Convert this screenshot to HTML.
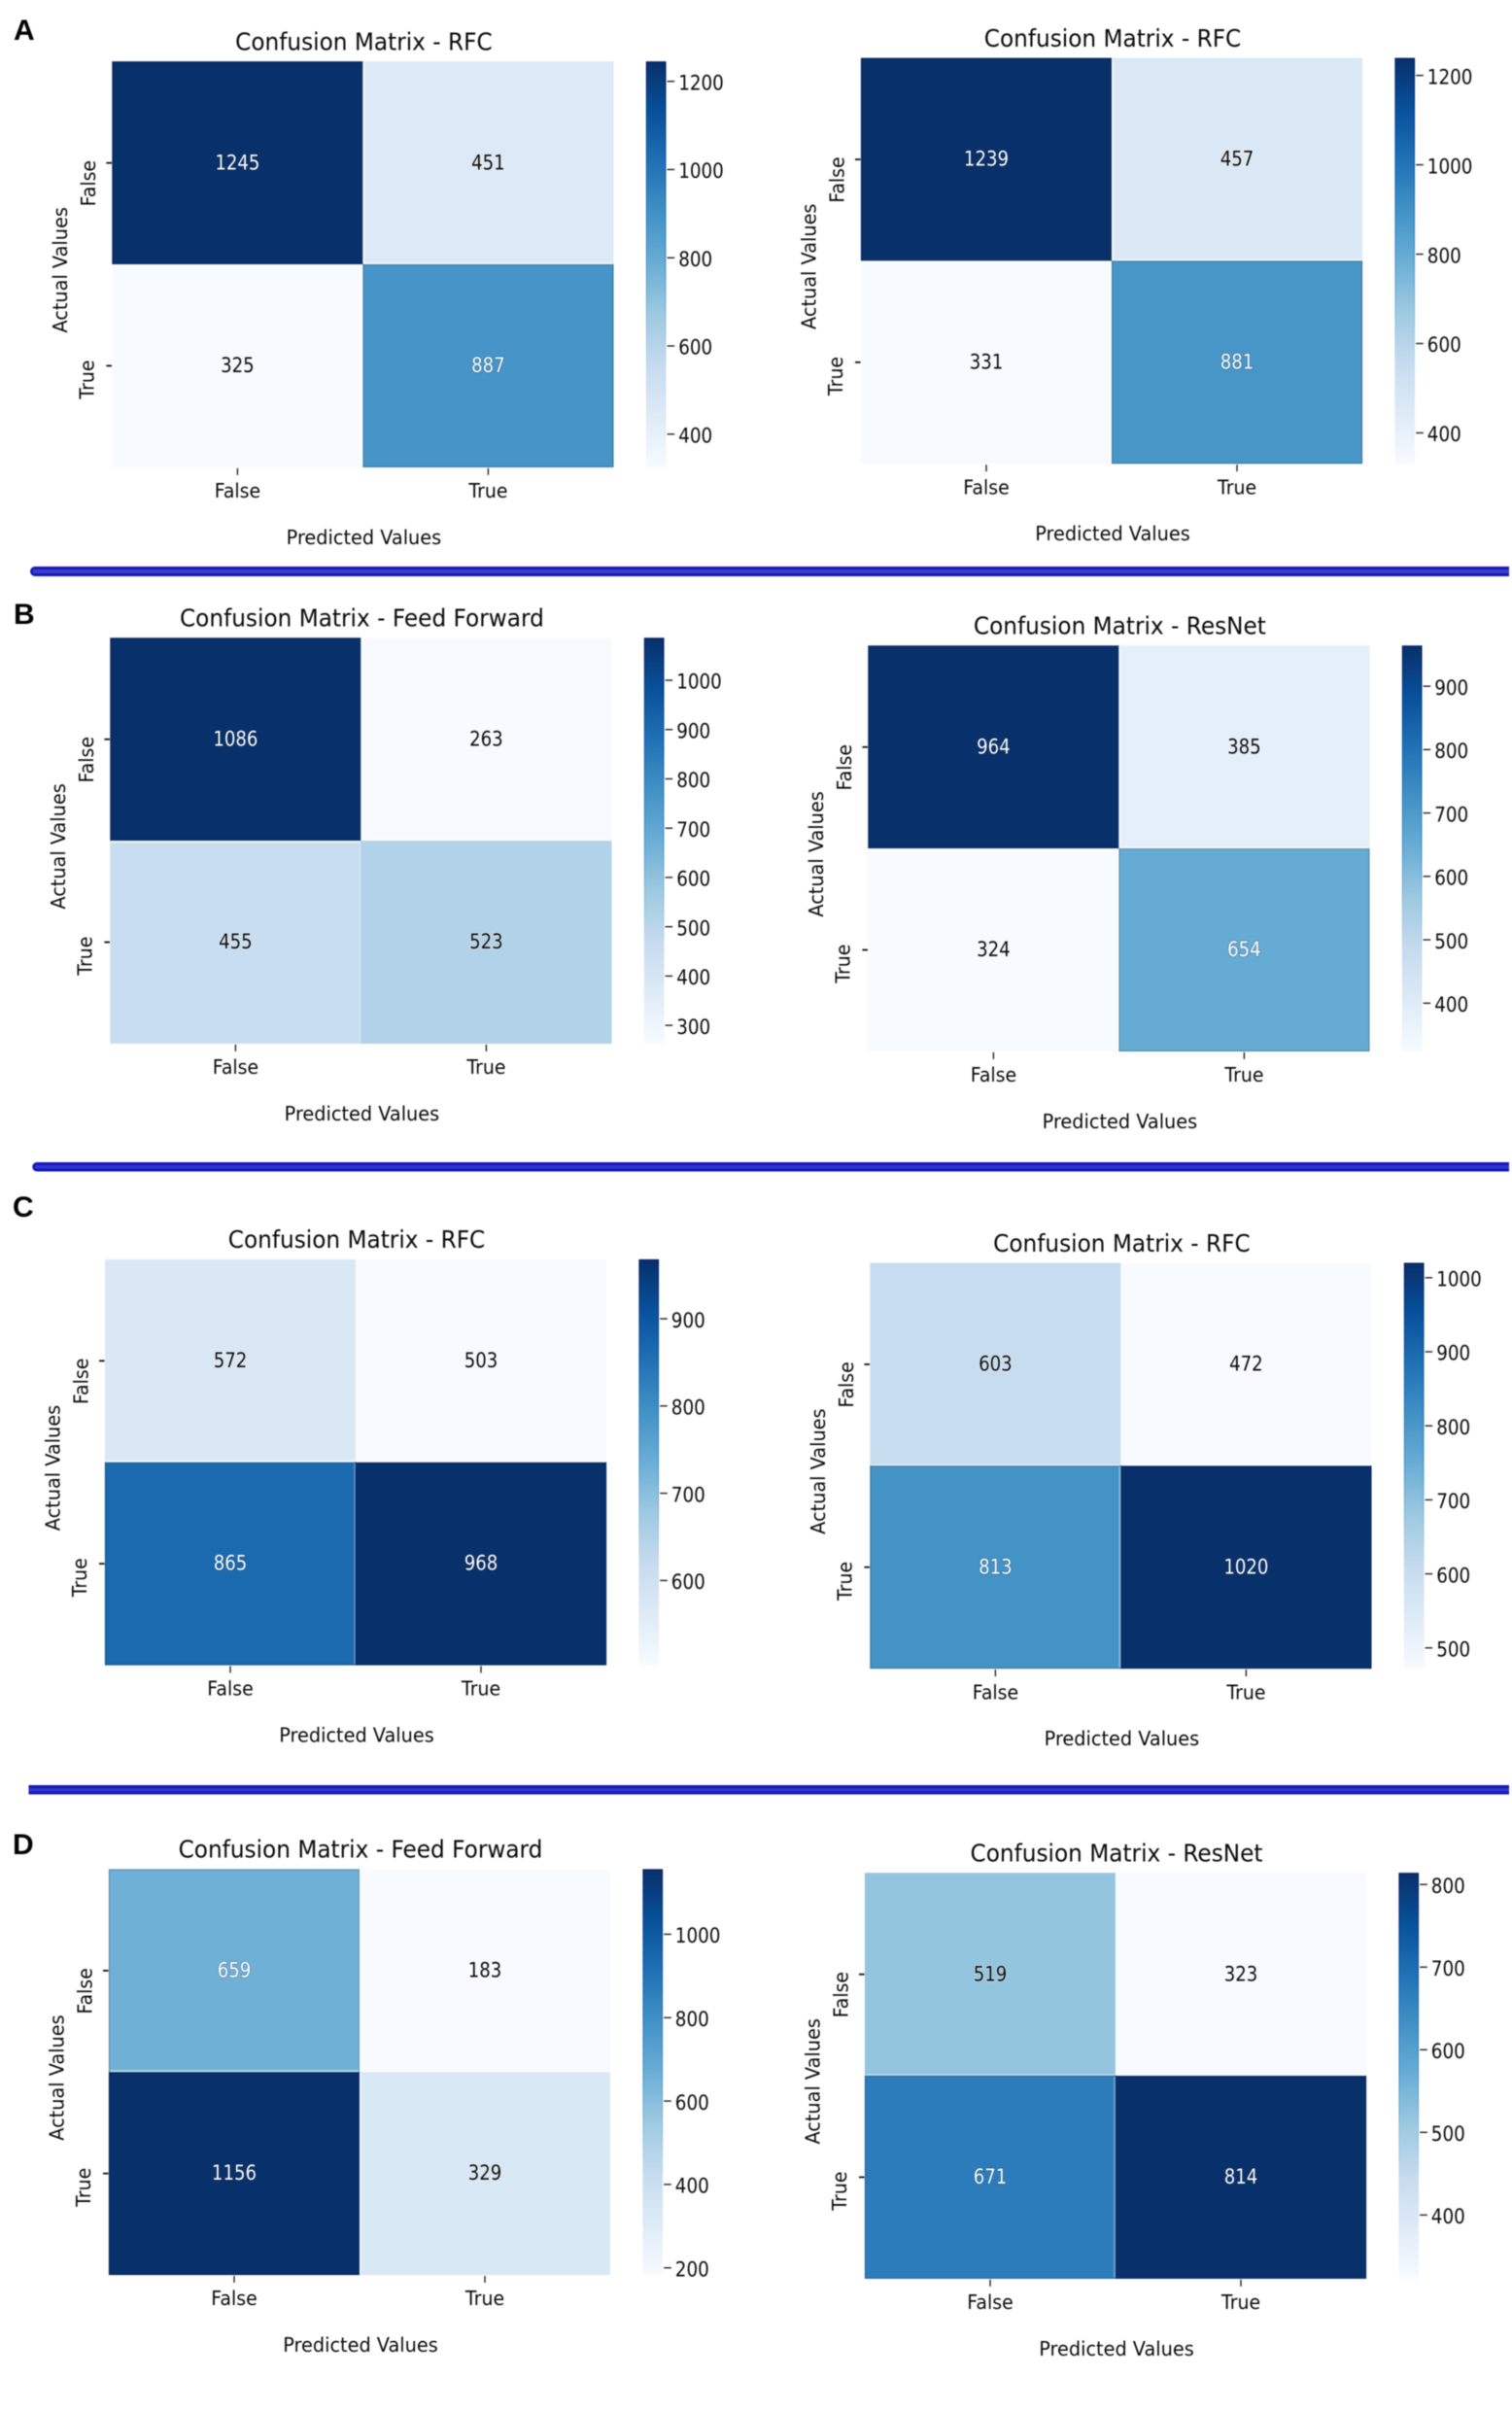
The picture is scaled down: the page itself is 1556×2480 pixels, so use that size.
<!DOCTYPE html>
<html lang="en">
<head>
<meta charset="utf-8">
<title>Confusion matrices</title>
<style>
  html, body { margin: 0; padding: 0; background: #fff; }
  #figure { display: block; width: 1556px; height: 2480px; filter: blur(0.5px); }
  #figure text { font-family: "DejaVu Sans", "Liberation Sans", sans-serif; fill: #0a0a0a; }
  #figure text.panel-letter { font-family: "Liberation Sans", sans-serif; font-weight: 700; font-size: 30px; fill: #000; }
</style>
</head>
<body>
<svg id="figure" xmlns="http://www.w3.org/2000/svg" width="1556" height="2480" viewBox="0 0 1556 2480">
  <defs>
    <linearGradient id="blues-gradient" x1="0" y1="1" x2="0" y2="0">
      <stop offset="0" stop-color="#f7fbff"/>
      <stop offset="0.125" stop-color="#deebf7"/>
      <stop offset="0.25" stop-color="#c6dbef"/>
      <stop offset="0.375" stop-color="#9ecae1"/>
      <stop offset="0.5" stop-color="#6baed6"/>
      <stop offset="0.625" stop-color="#4292c6"/>
      <stop offset="0.75" stop-color="#2171b5"/>
      <stop offset="0.875" stop-color="#08519c"/>
      <stop offset="1" stop-color="#08306b"/>
    </linearGradient>
    <linearGradient id="blues-edge-gradient" x1="0" y1="1" x2="0" y2="0">
      <stop offset="0" stop-color="#f7fbff"/>
      <stop offset="0.25" stop-color="#c6dbef"/>
      <stop offset="0.5" stop-color="#4a98d0"/>
      <stop offset="0.75" stop-color="#0a5fb0"/>
      <stop offset="1" stop-color="#001c62"/>
    </linearGradient>
  </defs>
  <text class="panel-letter" x="14" y="41">A</text>
  <text class="panel-letter" x="14" y="642">B</text>
  <text class="panel-letter" x="13" y="1252">C</text>
  <text class="panel-letter" x="13" y="1908">D</text>
  <g>
    <path d="M36 583H1553V593H36A5 5 0 0 1 36 583Z" fill="#1616bc"/>
    <rect x="34" y="586" width="1519" height="4" fill="#3a3ecb"/>
  </g>
  <g>
    <path d="M38 1196H1553V1205.500H38A4.750 4.750 0 0 1 38 1196Z" fill="#1616bc"/>
    <rect x="36" y="1199" width="1517" height="3.500" fill="#3236c8"/>
  </g>
  <g>
    <rect x="29.500" y="1837" width="1523.500" height="9.500" fill="#1616bc"/>
    <rect x="30" y="1840" width="1523" height="3.500" fill="#3236c8"/>
  </g>
</svg>
<script>
// Axis categories
const categories = ['False', 'True'];

// Chart titles
const titleA1 = 'Confusion Matrix - RFC';
const titleA2 = 'Confusion Matrix - RFC';
const titleB1 = 'Confusion Matrix - Feed Forward';
const titleB2 = 'Confusion Matrix - ResNet';
const titleC1 = 'Confusion Matrix - RFC';
const titleC2 = 'Confusion Matrix - RFC';
const titleD1 = 'Confusion Matrix - Feed Forward';
const titleD2 = 'Confusion Matrix - ResNet';

// Cell counts, row by row: [[actual False], [actual True]]
const valuesA1 = [[1245, 451], [325, 887]];
const valuesA2 = [[1239, 457], [331, 881]];
const valuesB1 = [[1086, 263], [455, 523]];
const valuesB2 = [[964, 385], [324, 654]];
const valuesC1 = [[572, 503], [865, 968]];
const valuesC2 = [[603, 472], [813, 1020]];
const valuesD1 = [[659, 183], [1156, 329]];
const valuesD2 = [[519, 323], [671, 814]];

// Colorbar tick labels
const ticksA1 = [400, 600, 800, 1000, 1200];
const ticksA2 = [400, 600, 800, 1000, 1200];
const ticksB1 = [300, 400, 500, 600, 700, 800, 900, 1000];
const ticksB2 = [400, 500, 600, 700, 800, 900];
const ticksC1 = [600, 700, 800, 900];
const ticksC2 = [500, 600, 700, 800, 900, 1000];
const ticksD1 = [200, 400, 600, 800, 1000];
const ticksD2 = [400, 500, 600, 700, 800];

const xAxisTitle = 'Predicted Values';
const yAxisTitle = 'Actual Values';

// Blues colormap anchors (styling, not data)
const bluesRamp = ['#f7fbff', '#deebf7', '#c6dbef', '#9ecae1', '#6baed6', '#4292c6', '#2171b5', '#08519c', '#08306b'];

const svg = document.getElementById('figure');
const SVG_NS = 'http://www.w3.org/2000/svg';
const plotWidth = 516;
const plotHeight = 417.5;
const fontLabel = 18.9;
const fontTitle = 23.2;

function make(tag, attrs, content) {
  const el = document.createElementNS(SVG_NS, tag);
  for (const key in attrs) {
    el.setAttribute(key, attrs[key]);
  }
  if (content !== undefined) {
    el.textContent = content;
  }
  return el;
}

// Text is hinted in the source figure: digits run narrow, glyphs run tall.
function makeText(str, x, y, size, sx, sy, anchor, angle) {
  const transform = 'translate(' + x + ' ' + y + ') rotate(' + angle + ') scale(' + sx + ' ' + sy + ')';
  return make('text', { x: 0, y: 0, 'text-anchor': anchor, 'font-size': size, transform: transform }, str);
}

function hexToRgb(hex) {
  return [1, 3, 5].map(function (i) { return parseInt(hex.substr(i, 2), 16); });
}

function blues(t) {
  const clamped = Math.max(0, Math.min(1, t));
  const pos = clamped * (bluesRamp.length - 1);
  const low = Math.min(Math.floor(pos), bluesRamp.length - 2);
  const frac = pos - low;
  const a = hexToRgb(bluesRamp[low]);
  const b = hexToRgb(bluesRamp[low + 1]);
  return a.map(function (c, i) { return Math.round(c + (b[i] - c) * frac); });
}

function rgb(c) {
  return 'rgb(' + c.join(',') + ')';
}

function drawMatrix(originX, originY, title, values, ticks) {
  const flat = values[0].concat(values[1]);
  const vMin = Math.min.apply(null, flat);
  const vMax = Math.max.apply(null, flat);
  const norm = function (v) { return (v - vMin) / (vMax - vMin); };
  const cellW = plotWidth / categories.length;
  const cellH = plotHeight / categories.length;
  const xCol = function (i) { return originX + i * cellW; };
  const yRow = function (i) { return originY + i * cellH; };
  const yBar = function (v) { return originY + plotHeight - norm(v) * plotHeight; };

  const group = make('g', {});
  
  
  svg.appendChild(group);

  const titleEl = makeText(title, originX + plotWidth / 2 + 1, originY - 11.8, fontTitle, 1, 1.07, 'middle', 0);
  
  
  group.appendChild(titleEl);

  values.forEach(function (row, r) {
    row.forEach(function (value, c) {
      const t = norm(value);
      const color = blues(t);
      const edge = t > 0.45 ? color.map(function (ch) { return Math.round(ch * 0.8); }) : color;
      const cell = make('rect', { x: xCol(c) + 0.5, y: yRow(r) + 0.5, width: cellW - 1, height: cellH - 1, fill: rgb(color), stroke: rgb(edge), 'stroke-width': 1.2 });
      
      
      group.appendChild(cell);
    });
  });

  // Lighter neighbour brightens along the shared edge (resampling halo in the source).
  values.forEach(function (row, r) {
    row.forEach(function (value, c) {
      const t = norm(value);
      const color = blues(t);
      const otherInRow = norm(row[1 - c]);
      const otherInCol = norm(values[1 - r][c]);
      if (otherInRow > t) {
        const mixX = Math.min(0.7, (otherInRow - t) * 1.0);
        const vx = c === 0 ? xCol(1) - 2 : xCol(1);
        const vHalo = make('rect', { x: vx, y: yRow(r) + 1, width: 2, height: cellH - 2, fill: rgb(color.map(function (ch) { return Math.round(ch + (255 - ch) * mixX); })) });
        
        
        group.appendChild(vHalo);
      }
      if (otherInCol > t) {
        const mixY = Math.min(0.7, (otherInCol - t) * 1.0);
        const hy = r === 0 ? yRow(1) - 2 : yRow(1);
        const hHalo = make('rect', { x: xCol(c) + 1, y: hy, width: cellW - 2, height: 2, fill: rgb(color.map(function (ch) { return Math.round(ch + (255 - ch) * mixY); })) });
        
        
        group.appendChild(hHalo);
      }
    });
  });

  values.forEach(function (row, r) {
    row.forEach(function (value, c) {
      const color = blues(norm(value));
      const light = norm(value) > 0.45;
      const label = makeText(String(value), xCol(c) + cellW / 2, yRow(r) + cellH / 2 + 6.6, fontLabel, 0.96, 1.12, 'middle', 0);
      label.style.fill = light ? '#ffffff' : '#0a0a0a';
      label.style.stroke = light ? rgb(color.map(function (ch) { return Math.round(ch * 0.6); })) : '#ffffff';
      label.style.strokeWidth = '1.6px';
      label.style.strokeOpacity = '0.5';
      label.style.paintOrder = 'stroke';
      
      
      group.appendChild(label);
    });
  });

  categories.forEach(function (name, i) {
    const cx = xCol(i) + cellW / 2;
    const xTick = make('line', { x1: cx, x2: cx, y1: originY + plotHeight + 1, y2: originY + plotHeight + 8, stroke: '#222', 'stroke-width': 1.4 });
    
    
    group.appendChild(xTick);

    const xLabel = makeText(name, cx, originY + plotHeight + 31.2, fontLabel, 1, 1.1, 'middle', 0);
    
    
    group.appendChild(xLabel);

    const cy = yRow(i) + cellH / 2;
    const yTick = make('line', { x1: originX - 6, x2: originX - 0.5, y1: cy, y2: cy, stroke: '#111', 'stroke-width': 1.8 });
    
    
    group.appendChild(yTick);

    const yLabel = makeText(name, originX - (i === 0 ? 17.5 : 18.8), cy + (i === 0 ? 21 : 14.2), fontLabel, 1, 1.1, 'middle', -90);
    
    
    group.appendChild(yLabel);
  });

  const xTitle = makeText(xAxisTitle, originX + plotWidth / 2 + 1, originY + plotHeight + 79, fontLabel, 1.02, 1.1, 'middle', 0);
  
  
  group.appendChild(xTitle);

  const yTitle = makeText(yAxisTitle, originX - 46.3, originY + plotHeight / 2 + 5.8, fontLabel, 1.02, 1.1, 'middle', -90);
  
  
  group.appendChild(yTitle);

  const barX = originX + plotWidth + 33.5;
  const barW = 20.5;
  const bar = make('rect', { x: barX + 0.5, y: originY + 0.5, width: barW - 1, height: plotHeight - 1, fill: 'url(#blues-gradient)', stroke: 'url(#blues-edge-gradient)', 'stroke-width': 1.2 });
  
  
  group.appendChild(bar);

  ticks.forEach(function (tick) {
    const ty = yBar(tick);
    const barTick = make('line', { x1: barX + barW + 1.2, x2: barX + barW + 8.8, y1: ty, y2: ty, stroke: '#222', 'stroke-width': 1.4 });
    
    
    group.appendChild(barTick);

    const barLabel = makeText(String(tick), barX + barW + 12.8, ty + 8.7, fontLabel, 0.97, 1.12, 'start', 0);
    
    
    group.appendChild(barLabel);
  });
}

drawMatrix(115.4, 63.3, titleA1, valuesA1, ticksA1);
drawMatrix(886, 59.7, titleA2, valuesA2, ticksA2);
drawMatrix(113.4, 656.4, titleB1, valuesB1, ticksB1);
drawMatrix(893.4, 664.4, titleB2, valuesB2, ticksB2);
drawMatrix(108, 1296, titleC1, valuesC1, ticksC1);
drawMatrix(895.4, 1299.6, titleC2, valuesC2, ticksC2);
drawMatrix(112, 1923.5, titleD1, valuesD1, ticksD1);
drawMatrix(890, 1927.3, titleD2, valuesD2, ticksD2);
</script>
</body>
</html>
